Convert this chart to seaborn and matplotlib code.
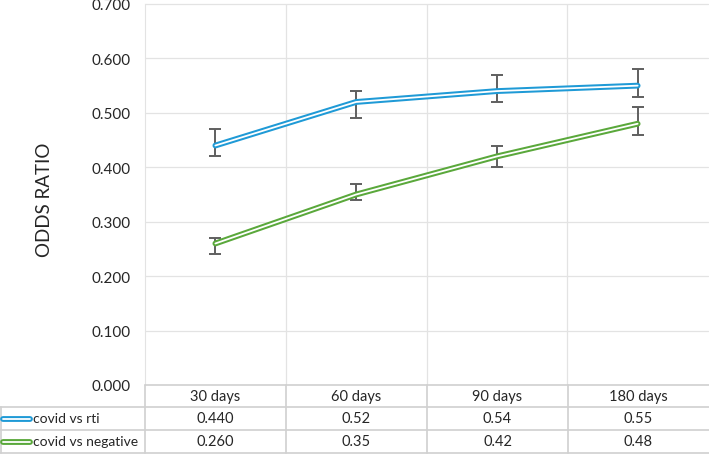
import numpy as np
import pandas as pd
import matplotlib
matplotlib.use("Agg")
import matplotlib.pyplot as plt
import seaborn as sns

# data
periods = ["30 days", "60 days", "90 days", "180 days"]
rti = [0.44, 0.52, 0.54, 0.55]
rti_lo = [0.42, 0.49, 0.52, 0.53]
rti_hi = [0.47, 0.54, 0.57, 0.58]
neg = [0.26, 0.35, 0.42, 0.48]
neg_lo = [0.24, 0.34, 0.40, 0.46]
neg_hi = [0.27, 0.37, 0.44, 0.51]
rti_txt = ["0.440", "0.52", "0.54", "0.55"]
neg_txt = ["0.260", "0.35", "0.42", "0.48"]
series_names = ["covid vs rti", "covid vs negative"]
colors = ["#1F9AD6", "#5AA83B"]

sns.set_style("white")
plt.rcParams["font.family"] = ["Lato", "DejaVu Sans"]

W, H = 709, 456
fig = plt.figure(figsize=(W / 100, H / 100), dpi=100)


def fx(x):
    return x / W


def fy(y):
    return 1 - y / H


left, right, top, bottom = 145, 708, 5, 386
ax = fig.add_axes([fx(left), fy(bottom), fx(right) - fx(left), fy(top) - fy(bottom)])

df = pd.DataFrame({"x": np.arange(len(periods)), "rti": rti, "neg": neg})

grid_c = "#E3E3E3"
yt = np.linspace(0, 0.7, 8)
for v in yt[1:]:
    ax.axhline(v, color=grid_c, lw=0.9, zorder=0, clip_on=False)
for b in np.arange(0.5, len(periods) - 0.5, 1):
    ax.axvline(b, color=grid_c, lw=0.9, zorder=0)

# double lines: coloured thick line + thin white line on top
for col, c, lo, hi in [("rti", colors[0], rti_lo, rti_hi), ("neg", colors[1], neg_lo, neg_hi)]:
    vals = df[col].values
    ax.errorbar(df["x"], vals, yerr=[vals - np.array(lo), np.array(hi) - vals],
                fmt="none", ecolor="#5F5F5F", elinewidth=1.4, capsize=4, capthick=1.4, zorder=3)
    sns.lineplot(data=df, x="x", y=col, color=c, lw=4.2, ax=ax, zorder=4)
    sns.lineplot(data=df, x="x", y=col, color="white", lw=1.3, ax=ax, zorder=5)

ax.set_xlim(-0.5, len(periods) - 0.5)
ax.set_ylim(0, 0.7)
ax.set_yticks(yt)
ax.set_yticklabels([f"{v:.3f}" for v in yt], fontsize=11)
ax.set_xticks([])
ax.set_xlabel("")
ax.set_ylabel("")
ax.tick_params(axis="y", length=0, pad=10)
for s in ["top", "right", "bottom"]:
    ax.spines[s].set_visible(False)
ax.spines["left"].set_color(grid_c)

fig.text(fx(45), fy(200), "ODDS RATIO", rotation=90, ha="center", va="center", fontsize=13.5)

# data table below the plot
tc = "#D0D0D0"
col_edges = [left + i * (W - left) / len(periods) for i in range(len(periods) + 1)]
row_lines = [386, 408, 431, 454]
for i, y in enumerate(row_lines):
    x0 = left if i == 0 else 0
    fig.add_artist(plt.Line2D([fx(x0), fx(W)], [fy(y), fy(y)], color=tc, lw=1.2))
for x in col_edges[:-1]:
    fig.add_artist(plt.Line2D([fx(x), fx(x)], [fy(386), fy(454)], color=tc, lw=1.2))
fig.add_artist(plt.Line2D([fx(0.6), fx(0.6)], [fy(408), fy(454)], color=tc, lw=1.2))

centers = [(col_edges[i] + col_edges[i + 1]) / 2 for i in range(len(periods))]
for cx, p in zip(centers, periods):
    fig.text(fx(cx), fy(397), p, ha="center", va="center", fontsize=10.5)
for r, (txts, name, c) in enumerate(zip([rti_txt, neg_txt], series_names, colors)):
    yc = (row_lines[r + 1] + row_lines[r + 2]) / 2
    fig.add_artist(plt.Line2D([fx(3), fx(30)], [fy(yc), fy(yc)], color=c, lw=4.2))
    fig.add_artist(plt.Line2D([fx(3), fx(30)], [fy(yc), fy(yc)], color="white", lw=1.3))
    fig.text(fx(33), fy(yc), name, ha="left", va="center", fontsize=10)
    for cx, t in zip(centers, txts):
        fig.text(fx(cx), fy(yc), t, ha="center", va="center", fontsize=10.5)

fig.savefig("out.png", dpi=100)
